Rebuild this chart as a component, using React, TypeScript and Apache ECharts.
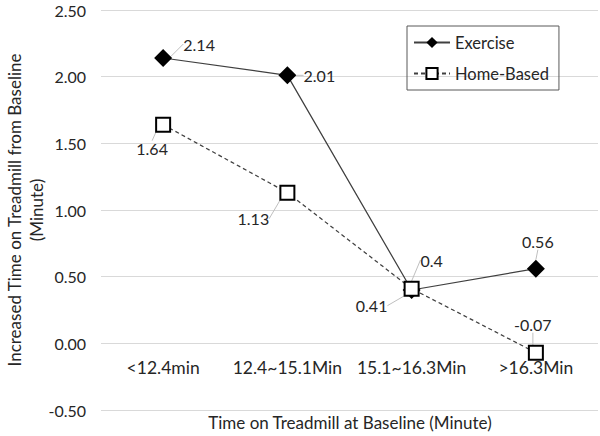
import React, { useEffect, useRef } from "react";
import * as echarts from "echarts";

const categories = ["<12.4min", "12.4~15.1Min", "15.1~16.3Min", ">16.3Min"];
const exercise = [2.14, 2.01, 0.4, 0.56];
const homeBased = [1.64, 1.13, 0.41, -0.07];
const yTicks = { min: -0.5, max: 2.5, interval: 0.5 };

// label offsets (dx, dy) relative to each point
const exerciseOffsets = [[36, -14], [32, 0], [20, -30], [2, -27]];
const homeOffsets = [[-11, 24], [-34, 26], [-40, 17], [-3, -28]];

const FONT = "Lato";
const TEXT = "#262626";

export default function App() {
  const ref = useRef<HTMLDivElement>(null);
  useEffect(() => {
    const chart = echarts.init(ref.current!, null, { renderer: "svg" });
    const labelBase = {
      show: true,
      position: "inside" as const,
      fontFamily: FONT,
      fontSize: 16,
      color: TEXT,
      formatter: (p: any) => String(p.value),
    };
    chart.setOption({
      animation: false,
      textStyle: { fontFamily: FONT },
      grid: { left: 101, right: 2, top: 10, bottom: 26, outerBoundsMode: "none", containLabel: false },
      legend: {
        orient: "vertical",
        left: 407,
        top: 26,
        padding: [8, 10, 8, 6],
        itemWidth: 36,
        itemHeight: 14,
        itemGap: 14,
        borderColor: "#595959",
        borderWidth: 1,
        textStyle: { fontFamily: FONT, fontSize: 16.5, color: TEXT },
        data: ["Exercise", "Home-Based"],
      },
      xAxis: {
        type: "category",
        data: categories,
        position: "bottom",
        // the axis crosses the value axis at 0 (0.5 of 3.0 span above the bottom)
        offset: -67,
        axisLine: { show: false, onZero: false },
        axisTick: { show: false },
        axisLabel: { fontFamily: FONT, fontSize: 17.5, color: TEXT, margin: 15, interval: 0, hideOverlap: false },
      },
      yAxis: {
        type: "value",
        min: yTicks.min,
        max: yTicks.max,
        interval: yTicks.interval,
        axisLine: { show: false },
        axisTick: { show: false },
        splitLine: { lineStyle: { color: "#d9d9d9" } },
        axisLabel: {
          fontFamily: FONT,
          fontSize: 16,
          color: TEXT,
          margin: 15,
          formatter: (v: number) => v.toFixed(2),
        },
      },
      graphic: [
        {
          type: "text",
          x: 14,
          y: 210,
          rotation: Math.PI / 2,
          style: {
            text: "Increased Time on Treadmill from Baseline",
            fontFamily: FONT,
            fontSize: 17,
            fill: TEXT,
            align: "center",
            verticalAlign: "middle",
          },
        },
        {
          type: "text",
          x: 36,
          y: 210,
          rotation: Math.PI / 2,
          style: {
            text: "(Minute)",
            fontFamily: FONT,
            fontSize: 17,
            fill: TEXT,
            align: "center",
            verticalAlign: "middle",
          },
        },
        {
          type: "text",
          x: 350,
          y: 422,
          style: {
            text: "Time on Treadmill at Baseline (Minute)",
            fontFamily: FONT,
            fontSize: 17,
            fill: TEXT,
            align: "center",
            verticalAlign: "middle",
          },
        },
      ],
      series: [
        {
          name: "Exercise",
          type: "line",
          data: exercise,
          symbol: "diamond",
          symbolSize: 18,
          itemStyle: { color: "#000000" },
          lineStyle: { color: "#404040", width: 1.25, type: "solid" },
          label: labelBase,
          labelLine: { show: true, lineStyle: { color: "#bfbfbf", width: 1 } },
          labelLayout: (p: any) => ({
            dx: exerciseOffsets[p.dataIndex][0],
            dy: exerciseOffsets[p.dataIndex][1],
          }),
        },
        {
          name: "Home-Based",
          type: "line",
          data: homeBased,
          symbol: "rect",
          symbolSize: 14,
          itemStyle: { color: "#ffffff", borderColor: "#000000", borderWidth: 2 },
          lineStyle: { color: "#404040", width: 1.25, type: [4, 3] },
          label: labelBase,
          labelLine: { show: true, lineStyle: { color: "#bfbfbf", width: 1 } },
          labelLayout: (p: any) => ({
            dx: homeOffsets[p.dataIndex][0],
            dy: homeOffsets[p.dataIndex][1],
          }),
        },
      ],
    });
    return () => chart.dispose();
  }, []);
  return (
    <div
      ref={ref}
      style={{ position: "absolute", left: 0, top: 0, width: 600, height: 436 }}
    />
  );
}
